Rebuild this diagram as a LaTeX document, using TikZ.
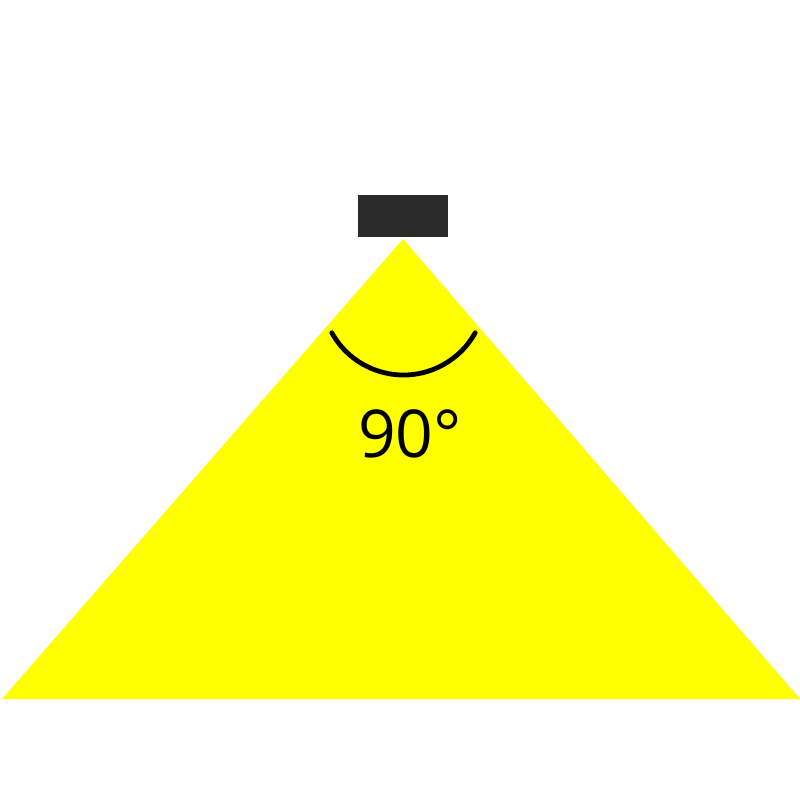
\documentclass[tikz,border=0pt]{standalone}
\usepackage{fontspec}
\setmainfont{Open Sans}
\usepackage{tikz}
\usetikzlibrary{calc}
\definecolor{lampgray}{HTML}{2B2B2B}
\definecolor{beamyellow}{HTML}{FFFF00}
\tikzstyle{lamp}=[fill=lampgray, draw=none]
\tikzstyle{beam}=[fill=beamyellow, draw=none]
\begin{document}
\begin{tikzpicture}[x=0.5pt, y=-0.5pt]
\tikzset{every node/.style={font=\fontsize{33pt}{36pt}\selectfont}}

% canvas
\useasboundingbox (0,0) rectangle (800,800);

% light cone
\coordinate (apex) at (403,239);
\coordinate (baseL) at (2,699);
\coordinate (baseR) at (800,699);
\fill[beam] (apex) -- (baseL) -- (baseR) -- cycle;

% lamp
\fill[lamp] (358,195) rectangle (448,237);

% angle mark
\coordinate (arcC) at (403.5,293);
\draw[line width=2.4pt, line cap=round] ($(arcC)+(151:82)$) arc[start angle=151, end angle=29, radius=82];

\node (angle) at (410,434) {90°};

\end{tikzpicture}
\end{document}
